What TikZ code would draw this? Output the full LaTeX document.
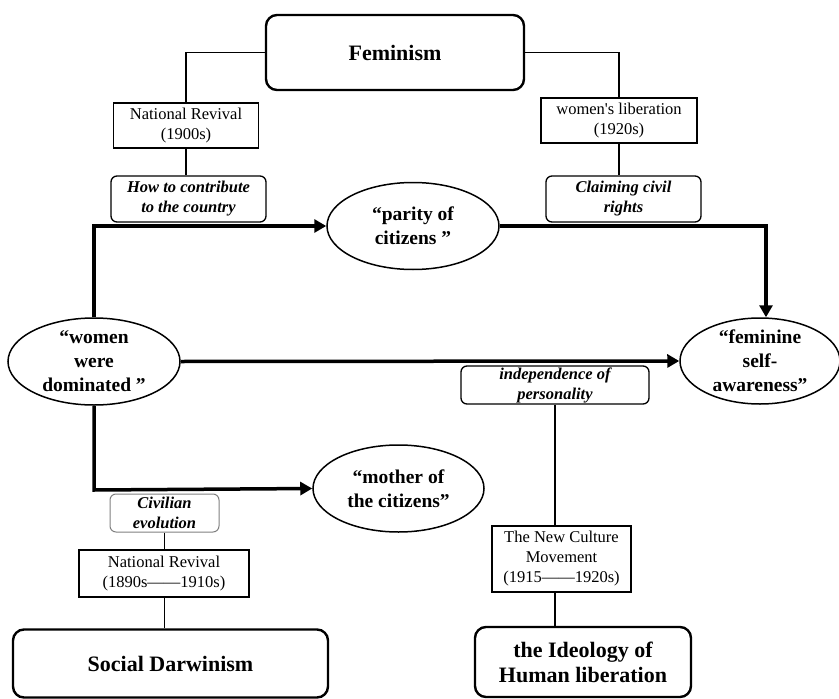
\documentclass[tikz,border=0pt]{standalone}
\usepackage{fontspec}
\setmainfont{Liberation Serif}
\usetikzlibrary{arrows.meta,shapes.geometric}
\tikzset{
  big/.style={draw, line width=2.4pt, rounded corners=11pt, inner sep=0pt, align=center,
    font=\bfseries\fontsize{22}{25}\selectfont},
  plainbox/.style={draw, line width=1.3pt, inner sep=0pt, align=center,
    font=\fontsize{16.5}{20}\selectfont},
  topic/.style={draw, line width=1.3pt, rounded corners=6pt, inner sep=0pt, align=center,
    font=\bfseries\itshape\fontsize{16.5}{20}\selectfont},
  ell/.style={draw, ellipse, line width=1.5pt, inner sep=0pt, minimum width=172pt, minimum height=87pt},
  elltext/.style={inner sep=0pt, align=center, font=\bfseries\fontsize{19.5}{24}\selectfont},
  conn/.style={line width=1.3pt},
  flow/.style={line width=3.5pt, -{Triangle[length=12pt,width=13pt]}},
}
\begin{document}
\begin{tikzpicture}[x=1pt,y=-1pt]
\useasboundingbox (0,0) rectangle (839,699);

% big boxes
\node[big, minimum width=258pt, minimum height=75pt] (fem) at (395,52.5) {Feminism};
\node[big, minimum width=315pt, minimum height=68pt] (sd) at (170.5,663.5) {Social Darwinism};
\node[big, minimum width=216pt, minimum height=70pt] (ideo) at (583,662) {the Ideology of\\Human liberation};

% period boxes
\node[plainbox, minimum width=145pt, minimum height=45pt] (nr1) at (186,125.5) {National Revival\\(1900s)};
\node[plainbox, minimum width=156pt, minimum height=45pt] (wl) at (619,120.5) {women\textquotesingle s liberation\\(1920s)};
\node[plainbox, minimum width=170pt, minimum height=47pt] (nr2) at (164,573.5) {National Revival\\(1890s——1910s)};
\node[plainbox, minimum width=139pt, minimum height=66pt] (nc) at (561.5,559) {The New Culture\\Movement\\(1915——1920s)};

% topic boxes
\node[topic, minimum width=155pt, minimum height=46pt] (how) at (188.5,199) {How to contribute\\to the country};
\node[topic, minimum width=155pt, minimum height=46pt] (claim) at (623.5,199) {Claiming civil\\rights};
\node[topic, minimum width=188pt, minimum height=38pt] (ind) at (555,385) {independence of\\personality};
\node[topic, draw=gray, line width=1pt, minimum width=109pt, minimum height=38pt] (civ) at (164.5,513) {Civilian\\evolution};

% ellipses
\node[ell] (wom) at (94,361.5) {};
\node[elltext] (womt) at (wom) {“women\\were\\dominated ”};
\node[ell] (par) at (413,226) {};
\node[elltext] (part) at (par) {“parity of\\citizens ”};
\node[ell, minimum width=160pt, minimum height=86pt] (fsa) at (760,361) {};
\node[elltext] (fsat) at (fsa) {“feminine\\self-\\awareness”};
\node[ell, minimum width=171pt] (mot) at (398.5,488.5) {};
\node[elltext] (mott) at (mot) {“mother of\\the citizens”};

% thin connectors
\draw[conn] (fem.west) -| (nr1.north);
\draw[conn] (nr1.south) -- (nr1.south |- how.north);
\draw[conn] (fem.east) -| (wl.north);
\draw[conn] (wl.south) -- (wl.south |- claim.north);
\draw[conn] (civ.south) -- (civ.south |- nr2.north);
\draw[conn] (civ.south |- nr2.south) -- (civ.south |- sd.north);
\draw[conn] (ind.south) -- (ind.south |- nc.north);
\draw[conn] (ind.south |- nc.south) -- (ind.south |- ideo.north);

% thick flows
\coordinate (c1) at (94,226);
\coordinate (c2) at (766,226);
\coordinate (c3) at (94,490);
\draw[flow] (wom.north) -- (c1) -- (par.west);
\draw[flow] (par.east) -- (c2) -- (c2 |- fsa.north);
\draw[flow] (wom.east) -- (fsa.west);
\draw[flow] (wom.south) -- (c3) -- (mot.west);
\end{tikzpicture}
\end{document}
